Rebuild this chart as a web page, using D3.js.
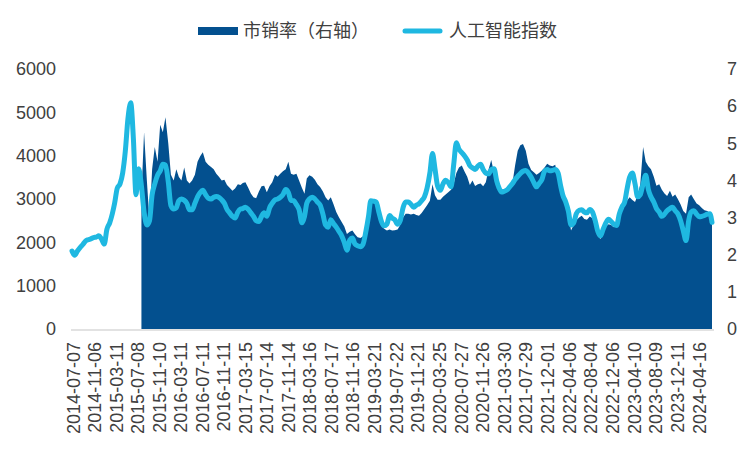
<!DOCTYPE html>
<html>
<head>
<meta charset="utf-8">
<script src="https://cdn.jsdelivr.net/npm/d3@7"></script>
<style>
  body { margin: 0; background: #fff; }
  svg { display: block; }
  .tick text { fill: #404040; font-family: "Liberation Sans", Arial, sans-serif; font-size: 18px; }
  .legend text { fill: #404040; font-family: "Noto Sans CJK SC", sans-serif; font-size: 18px; }
</style>
</head>
<body>
<svg id="chart"></svg>
<script>
// semi-monthly samples (1st and 16th)
const aiIndex = [
  // 2014 Jul-Dec
  1800,1700, 1800,1880, 1950,2030, 2060,2080, 2110,2120, 2150,2080,
  // 2015
  1960,2300, 2450,2660, 2900,3250, 3350,3600, 4100,4850, 5220,4400,
  3100,3700, 3300,2700, 2400,2500, 3100,3350, 3550,3650, 3800,3780,
  // 2016
  3400,2850, 2770,2800, 2960,3000, 2970,2900, 2750,2750, 2900,3050,
  3150,3200, 3100,3020, 3000,3040, 3060,3040, 2980,2900, 2760,2680,
  // 2017
  2600,2560, 2700,2770, 2780,2810, 2760,2680, 2600,2500, 2480,2600,
  2680,2600, 2800,2900, 2980,3000, 3040,3100, 3220,3150, 2970,2960,
  // 2018
  2870,2760, 2450,2600, 2900,3000, 3040,3000, 2930,2860, 2650,2400,
  2350,2520, 2430,2350, 2250,2150, 2000,1820, 2050,2100, 1960,1920,
  // 2019
  1900,1960, 2250,2600, 2960,2950, 2930,2700, 2480,2380, 2420,2620,
  2560,2520, 2420,2500, 2800,2930, 2930,2880, 2810,2860, 2890,2960,
  // 2020
  3050,3250, 3600,4050, 3700,3300, 3200,3350, 3430,3380, 3280,3800,
  4300,4150, 4070,4000, 3900,3770, 3720,3680, 3760,3800, 3680,3600,
  // 2021
  3580,3680, 3700,3420, 3260,3160, 3180,3210, 3280,3350, 3450,3520,
  3590,3640, 3660,3600, 3500,3380, 3280,3360, 3450,3640, 3680,3650,
  // 2022
  3660,3680, 3600,3300, 3080,2940, 2720,2400, 2450,2660, 2740,2750,
  2700,2680, 2760,2700, 2500,2250, 2150,2300, 2450,2530, 2480,2420,
  // 2023
  2390,2650, 2820,2930, 3220,3500, 3600,3350, 3050,3100, 3350,3550,
  3220,3050, 2930,2780, 2700,2600, 2650,2730, 2780,2810, 2730,2660,
  // 2024 Jan-Jun + 06-28
  2500,2270, 2040,2500, 2700,2730, 2650,2590, 2600,2620, 2650,2660, 2460
];

// 市销率 starts 2015-08-01
const psStart = 26;
const psRatio = [
  3.6,5.3, 4.0,2.9, 4.3,4.9, 4.5,5.5, 5.3,5.7,
  5.0,4.15, 4.0,4.3, 4.1,4.0, 4.35,4.0, 3.92,4.0, 4.15,4.5,
  4.65,4.76, 4.5,4.42, 4.36,4.3, 4.18,4.1, 4.0,4.02, 3.88,3.8,
  3.72,3.78, 3.9,3.88, 3.93,3.95, 3.8,3.65, 3.55,3.52, 3.7,3.84,
  3.86,3.68, 3.85,3.95, 4.15,4.1, 4.18,4.25, 4.3,4.5, 4.18,4.15,
  4.18,4.0, 3.8,3.64, 4.05,4.14, 4.1,4.02, 3.9,3.82, 3.7,3.55,
  3.46,3.55, 3.35,3.15, 3.0,2.88, 2.76,2.56, 2.62,2.65, 2.55,2.47,
  2.45,2.5, 2.74,3.3, 3.48,3.5, 3.3,3.0, 2.78,2.7, 2.65,2.68,
  2.65,2.66, 2.68,2.8, 3.0,3.1, 3.1,3.08, 3.1,3.07, 3.05,3.12,
  3.23,3.33, 3.45,3.9, 3.6,3.48, 3.48,3.56, 3.62,3.68, 3.75,3.91,
  4.2,4.35, 4.4,4.25, 4.1,3.88, 4.0,3.85, 3.9,3.92, 3.84,3.95,
  4.3,4.55, 4.2,3.98, 3.85,3.74, 3.7,3.72, 3.8,3.9, 4.4,4.8,
  4.95,4.98, 4.8,4.45, 4.28,4.22, 4.15,4.2, 4.27,4.35, 4.45,4.4,
  4.38,4.42, 4.0,3.78, 3.55,3.35, 3.1,2.65, 2.8,2.93, 3.0,3.05,
  2.96,2.94, 3.03,2.98, 2.75,2.5, 2.42,2.62, 2.76,2.82, 2.8,2.74,
  2.85,3.05, 3.2,3.32, 3.45,3.55, 3.47,3.42, 3.6,3.9, 4.9,4.5,
  4.38,4.3, 4.1,3.86, 3.9,3.75, 3.65,3.58, 3.72,3.56, 3.62,3.5,
  3.35,3.18, 3.1,3.55, 3.62,3.5, 3.38,3.33, 3.26,3.2, 3.18,3.12, 3.05
];

const tickLabels = [
  "2014-07-07","2014-11-06","2015-03-11","2015-07-08","2015-11-10","2016-03-11",
  "2016-07-11","2016-11-11","2017-03-15","2017-07-14","2017-11-14","2018-03-16",
  "2018-07-17","2018-11-16","2019-03-21","2019-07-22","2019-11-21","2020-03-25",
  "2020-07-27","2020-11-26","2021-03-30","2021-07-29","2021-12-01","2022-04-06",
  "2022-08-04","2022-12-06","2023-04-10","2023-08-09","2023-12-11","2024-04-16"
];
const leftTicks = [0, 1000, 2000, 3000, 4000, 5000, 6000];
const rightTicks = [0, 1, 2, 3, 4, 5, 6, 7];

const w = 750, h = 450;
const svg = d3.select("#chart").attr("width", w).attr("height", h);

// sample dates: 1st and 16th of each month, plus the last day
const months = d3.timeMonth.range(new Date(2014, 6, 1), new Date(2024, 6, 1));
const dates = months.flatMap(m => [m, d3.timeDay.offset(m, 15)]).concat([new Date(2024, 5, 28)]);

const parse = d3.timeParse("%Y-%m-%d");
const x = d3.scaleTime()
  .domain([new Date(2014, 6, 1), new Date(2024, 5, 28)])
  .range([72, 712]);
const yL = d3.scaleLinear().domain([0, 6000]).range([329, 69]);
const yR = d3.scaleLinear().domain([0, 7]).range([329, 69]);

const lineData = aiIndex.map((v, i) => ({ d: dates[i], v }));
const psData = psRatio.map((v, i) => ({ d: dates[psStart + i], v }));

// area (right axis)
svg.append("path")
  .datum(psData)
  .attr("fill", "#03508f")
  .attr("d", d3.area()
    .x(p => x(p.d))
    .y0(yR(0))
    .y1(p => yR(p.v)));

// axis line
svg.append("line")
  .attr("x1", 71).attr("x2", 714)
  .attr("y1", 330).attr("y2", 330)
  .attr("stroke", "#d9d9d9").attr("stroke-width", 1.5);

// AI index line (left axis)
svg.append("path")
  .datum(lineData)
  .attr("fill", "none")
  .attr("stroke", "#1fb8e1")
  .attr("stroke-width", 5)
  .attr("stroke-linejoin", "round")
  .attr("stroke-linecap", "round")
  .attr("d", d3.line()
    .x(p => x(p.d))
    .y(p => yL(p.v))
    .curve(d3.curveMonotoneX));

// axes
const gL = svg.append("g")
  .attr("transform", "translate(71,0)")
  .call(d3.axisLeft(yL).tickValues(leftTicks).tickFormat(d3.format("d")).tickSize(0).tickPadding(15));
gL.select(".domain").remove();

const gR = svg.append("g")
  .attr("transform", "translate(714,0)")
  .call(d3.axisRight(yR).tickValues(rightTicks).tickFormat(d3.format("d")).tickSize(0).tickPadding(13));
gR.select(".domain").remove();

const gX = svg.append("g")
  .attr("transform", "translate(0,330)")
  .call(d3.axisBottom(x)
    .tickValues(tickLabels.map(parse))
    .tickFormat(d3.timeFormat("%Y-%m-%d"))
    .tickSize(0));
gX.select(".domain").remove();
gX.selectAll("text")
  .attr("transform", "rotate(-90)")
  .attr("x", -12)
  .attr("y", 0)
  .attr("dy", "0.35em")
  .style("text-anchor", "end");

// legend
const lg = svg.append("g").attr("class", "legend");
lg.append("rect")
  .attr("x", 198).attr("y", 27).attr("width", 40).attr("height", 8)
  .attr("fill", "#03508f");
lg.append("text").attr("x", 243).attr("y", 31).attr("dy", "0.35em").text("市销率（右轴）");
lg.append("line")
  .attr("x1", 405).attr("x2", 440).attr("y1", 31).attr("y2", 31)
  .attr("stroke", "#1fb8e1").attr("stroke-width", 5).attr("stroke-linecap", "round");
lg.append("text").attr("x", 449).attr("y", 31).attr("dy", "0.35em").text("人工智能指数");
</script>
</body>
</html>
